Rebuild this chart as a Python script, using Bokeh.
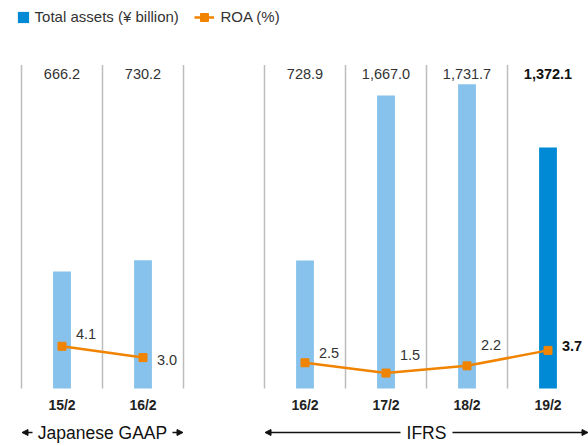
from bokeh.plotting import figure
from bokeh.models import Range1d, ColumnDataSource, Legend, LegendItem, Arrow, NormalHead
from bokeh.core.properties import value
from bokeh.embed import file_html
from bokeh.resources import INLINE

# Fiscal years (ending February), accounting standard, total assets and ROA
periods = ["15/2", "16/2", "16/2", "17/2", "18/2", "19/2"]
standards = ["Japanese GAAP", "Japanese GAAP", "IFRS", "IFRS", "IFRS", "IFRS"]
total_assets = [666.2, 730.2, 728.9, 1667.0, 1731.7, 1372.1]   # ¥ billion
roa = [4.1, 3.0, 2.5, 1.5, 2.2, 3.7]                            # %

# label nudges (screen px) for the ROA values
roa_label_dy = [-12, 2, -10, -18, -21, -4]

FONT = "Liberation Sans"
LIGHT_BLUE = "#86C2EB"
DARK_BLUE = "#0089D5"
ORANGE = "#F08300"
GRID = "#BDBDBD"
TEXT = "#333333"

W, H = 588, 446
LEFT_PX, SLOT_PX = 21, 81          # first column edge and column width
BASE_PX = 388                      # baseline, px from top
ASSET_PX = 0.1757                  # px per ¥ billion
ROA_PX = 10.3                      # px per ROA point


def ay(py):
    """screen y (px from top) -> total-assets data units"""
    return (BASE_PX - py) / ASSET_PX


# column slot of every period: one empty column between the two standards
slots = []
s = 0
for i, std in enumerate(standards):
    if i > 0 and std != standards[i - 1]:
        s += 1
    slots.append(s)
    s += 1
n_slots = s
centers = [k + 0.5 for k in slots]
latest = len(periods) - 1

p = figure(
    width=W, height=H,
    x_range=Range1d(-LEFT_PX / SLOT_PX, (W - LEFT_PX) / SLOT_PX),
    y_range=Range1d(-(H - BASE_PX) / ASSET_PX, BASE_PX / ASSET_PX),
    x_axis_type=None, y_axis_type=None,
    output_backend="svg", toolbar_location=None,
    min_border=0, outline_line_color=None,
    background_fill_color="white", border_fill_color="white",
)
p.extra_y_ranges = {"roa": Range1d(-(H - BASE_PX) / ROA_PX, BASE_PX / ROA_PX)}

# column separators
edges = list(range(n_slots))
p.segment(x0=edges, y0=[0] * len(edges), x1=edges, y1=[ay(64.5)] * len(edges),
          line_color=GRID, line_width=1.5)

src = ColumnDataSource(dict(
    x=centers,
    assets=total_assets,
    roa=roa,
    period=periods,
    asset_label=[f"{v:,.1f}" for v in total_assets],
    roa_label=[f"{v:.1f}" for v in roa],
    color=[DARK_BLUE if i == latest else LIGHT_BLUE for i in range(len(periods))],
    weight=["bold" if i == latest else "normal" for i in range(len(periods))],
    label_color=["#111111" if i == latest else TEXT for i in range(len(periods))],
    dy=roa_label_dy,
))

bars = p.vbar(x="x", top="assets", bottom=0, width=0.22, source=src,
              fill_color="color", line_color=None)

# total assets values along the top
p.text(x="x", y=ay(73), text="asset_label", source=src,
       text_font=value(FONT), text_font_size="14.5px", text_font_style="weight",
       text_color="label_color", text_align="center", text_baseline="middle")

# period labels
p.text(x="x", y=ay(404.5), text="period", source=src,
       text_font=value(FONT), text_font_size="14px", text_font_style="bold",
       text_color="#222222", text_align="center", text_baseline="middle")

# ROA line, one segment run per accounting standard
roa_line = None
for std in dict.fromkeys(standards):
    idx = [i for i, s_ in enumerate(standards) if s_ == std]
    roa_line = p.line([centers[i] for i in idx], [roa[i] for i in idx],
                      y_range_name="roa", line_color=ORANGE, line_width=2.5)
roa_pts = p.scatter(x="x", y="roa", source=src, y_range_name="roa", marker="square",
                    size=8, fill_color=ORANGE, line_color=ORANGE)
p.text(x="x", y="roa", text="roa_label", source=src, y_range_name="roa",
       x_offset=14, y_offset="dy",
       text_font=value(FONT), text_font_size="14.5px", text_font_style="weight",
       text_color="label_color", text_align="left", text_baseline="middle")

# accounting standard spans with arrows
half_text_px = {"Japanese GAAP": 68, "IFRS": 24}
row_y = ay(432)
for std in dict.fromkeys(standards):
    idx = [i for i, s_ in enumerate(standards) if s_ == std]
    x0 = slots[idx[0]]
    x1 = slots[idx[-1]] + 1
    mid = (x0 + x1) / 2
    p.text(x=[mid], y=[row_y], text=[std], text_font=value(FONT),
           text_font_size="17.5px", text_color="#111111",
           text_align="center", text_baseline="middle")
    gap = (half_text_px[std] + 2) / SLOT_PX
    tip = 0.5 / SLOT_PX
    for start, end in ((mid - gap, x0 + tip), (mid + gap, x1 - tip)):
        p.add_layout(Arrow(x_start=start, y_start=row_y, x_end=end, y_end=row_y,
                           line_color="#111111", line_width=1.3,
                           end=NormalHead(size=6, fill_color="#111111",
                                          line_color="#111111")))

legend_style = dict(
    border_line_color=None, background_fill_alpha=0, padding=0, margin=0,
    label_text_font=FONT, label_text_font_size="15px", label_text_color=TEXT,
    orientation="horizontal",
)
leg_assets = Legend(items=[LegendItem(label="Total assets (¥ billion)",
                                      renderers=[bars], index=latest)],
                    location=(15.6, 421), glyph_width=14, glyph_height=14,
                    label_standoff=5, label_height=14, **legend_style)
leg_roa = Legend(items=[LegendItem(label="ROA (%)", renderers=[roa_line, roa_pts])],
                 location=(193.5, 417.5), glyph_width=20, glyph_height=24,
                 label_standoff=7, label_height=14, **legend_style)
p.add_layout(leg_assets)
p.add_layout(leg_roa)

open("out.html", "w").write(file_html(p, INLINE))
